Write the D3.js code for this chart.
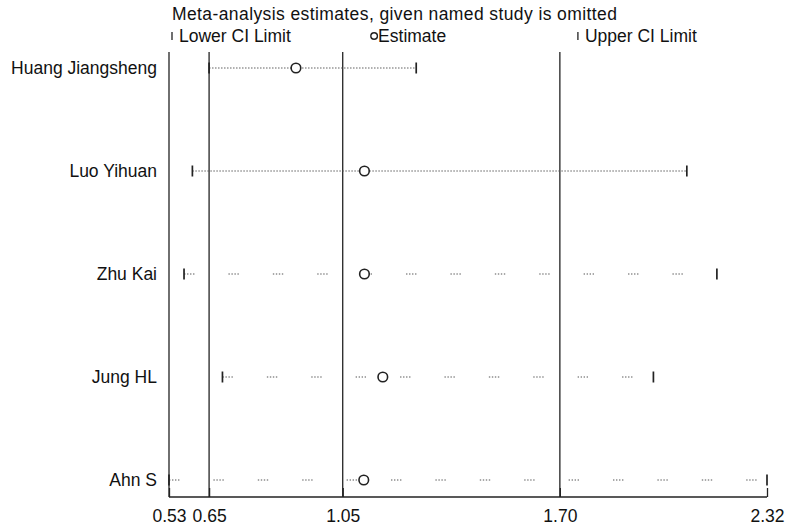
<!DOCTYPE html>
<html>
<head>
<meta charset="utf-8">
<script src="https://cdn.jsdelivr.net/npm/d3@7"></script>
<style>
  body { margin: 0; background: #fff; }
  .narrow { font-family: "Liberation Sans Narrow", "Liberation Sans", Arial, sans-serif; }
  .lab { font-family: "Liberation Sans", Arial, sans-serif; }
</style>
</head>
<body>
<div id="chart"></div>
<script>
// studies omitted, one per row
const studies = ['Huang Jiangsheng', 'Luo Yihuan', 'Zhu Kai', 'Jung HL', 'Ahn S'];
const estimates = [0.91, 1.115, 1.115, 1.17, 1.113];
const lowerCI = [0.65, 0.60, 0.575, 0.69, 0.53];
const upperCI = [1.27, 2.08, 2.17, 1.98, 2.32];
// reference lines: min, overall lower, overall estimate, overall upper
const refLines = [0.53, 0.65, 1.05, 1.70];
const tickValues = [0.53, 0.65, 1.05, 1.70, 2.32];
// line style per row (top two fine dotted, rest in dotted groups)
const rowStyle = ['fine', 'fine', 'group', 'group', 'group'];

const width = 792, height = 529;
const plotTop = 52, axisY = 497;

const svg = d3.select('#chart').append('svg')
  .attr('width', width).attr('height', height);

const x = d3.scaleLinear().domain([0.53, 2.32]).range([169, 767]);
const y = d3.scalePoint().domain(studies).range([68, 480]);

// vertical reference lines
svg.selectAll('line.ref').data(refLines).enter()
  .append('line')
  .attr('class', 'ref')
  .attr('x1', d => x(d)).attr('x2', d => x(d))
  .attr('y1', plotTop).attr('y2', axisY)
  .attr('stroke', '#222').attr('stroke-width', 1.3);

// x axis
const xAxis = d3.axisBottom(x).tickValues(tickValues)
  .tickFormat(d3.format('.2f')).tickSize(-9).tickPadding(13);
const gx = svg.append('g')
  .attr('transform', 'translate(0,' + axisY + ')')
  .call(xAxis);
gx.select('.domain').attr('stroke', '#222').attr('stroke-width', 1.3).attr('d', 'M' + x(0.53) + ',0H' + x(2.32));
gx.selectAll('.tick line').attr('stroke', '#222').attr('stroke-width', 1.3);
gx.selectAll('.tick text')
  .attr('class', 'narrow')
  .attr('font-size', 17.5).attr('fill', '#111');

// rows
const rows = svg.selectAll('g.row').data(studies).enter()
  .append('g').attr('class', 'row')
  .attr('transform', d => 'translate(0,' + y(d) + ')');

rows.append('line')
  .attr('x1', (d, i) => x(lowerCI[i])).attr('x2', (d, i) => x(upperCI[i]))
  .attr('y1', 0).attr('y2', 0)
  .attr('stroke', '#555').attr('stroke-width', 1.2)
  .attr('stroke-dasharray', (d, i) => rowStyle[i] === 'fine' ? '1.4,1.6' : '1.4,1.6,1.4,1.6,1.4,1.6,1.4,34');

// caps
rows.append('line')
  .attr('x1', (d, i) => x(lowerCI[i])).attr('x2', (d, i) => x(lowerCI[i]))
  .attr('y1', -5.5).attr('y2', 5.5)
  .attr('stroke', '#222').attr('stroke-width', 1.7);
rows.append('line')
  .attr('x1', (d, i) => x(upperCI[i])).attr('x2', (d, i) => x(upperCI[i]))
  .attr('y1', -5.5).attr('y2', 5.5)
  .attr('stroke', '#222').attr('stroke-width', 1.7);

rows.append('circle')
  .attr('cx', (d, i) => x(estimates[i])).attr('cy', 0).attr('r', 4.8)
  .attr('fill', '#fff').attr('stroke', '#222').attr('stroke-width', 1.6);

rows.append('text')
  .attr('class', 'lab')
  .attr('x', 157).attr('y', 6)
  .attr('text-anchor', 'end')
  .attr('font-size', 17.5).attr('fill', '#111')
  .text(d => d);

// title and legend
svg.append('text').attr('class', 'narrow')
  .attr('x', 172).attr('y', 20).attr('font-size', 17.5).attr('fill', '#111')
  .attr('letter-spacing', 0.4)
  .text('Meta-analysis estimates, given named study is omitted');

const legend = [
  { kind: 'cap', at: 0.53, label: 'Lower CI Limit' },
  { kind: 'dot', at: 1.135, label: 'Estimate' },
  { kind: 'cap', at: 1.745, label: 'Upper CI Limit' }
];
const lg = svg.selectAll('g.leg').data(legend).enter()
  .append('g').attr('class', 'leg')
  .attr('transform', d => 'translate(' + (x(d.at) + 3) + ',36)');
lg.filter(d => d.kind === 'cap').append('line')
  .attr('x1', 0).attr('x2', 0).attr('y1', -4).attr('y2', 4)
  .attr('stroke', '#222').attr('stroke-width', 1.3);
lg.filter(d => d.kind === 'dot').append('circle')
  .attr('cx', 0).attr('cy', 0).attr('r', 3.3)
  .attr('fill', '#fff').attr('stroke', '#222').attr('stroke-width', 1.4);
lg.append('text').attr('class', 'narrow')
  .attr('x', d => d.kind === 'cap' ? 7 : 4).attr('y', 6)
  .attr('font-size', 17.5).attr('fill', '#111')
  .text(d => d.label);
</script>
</body>
</html>
